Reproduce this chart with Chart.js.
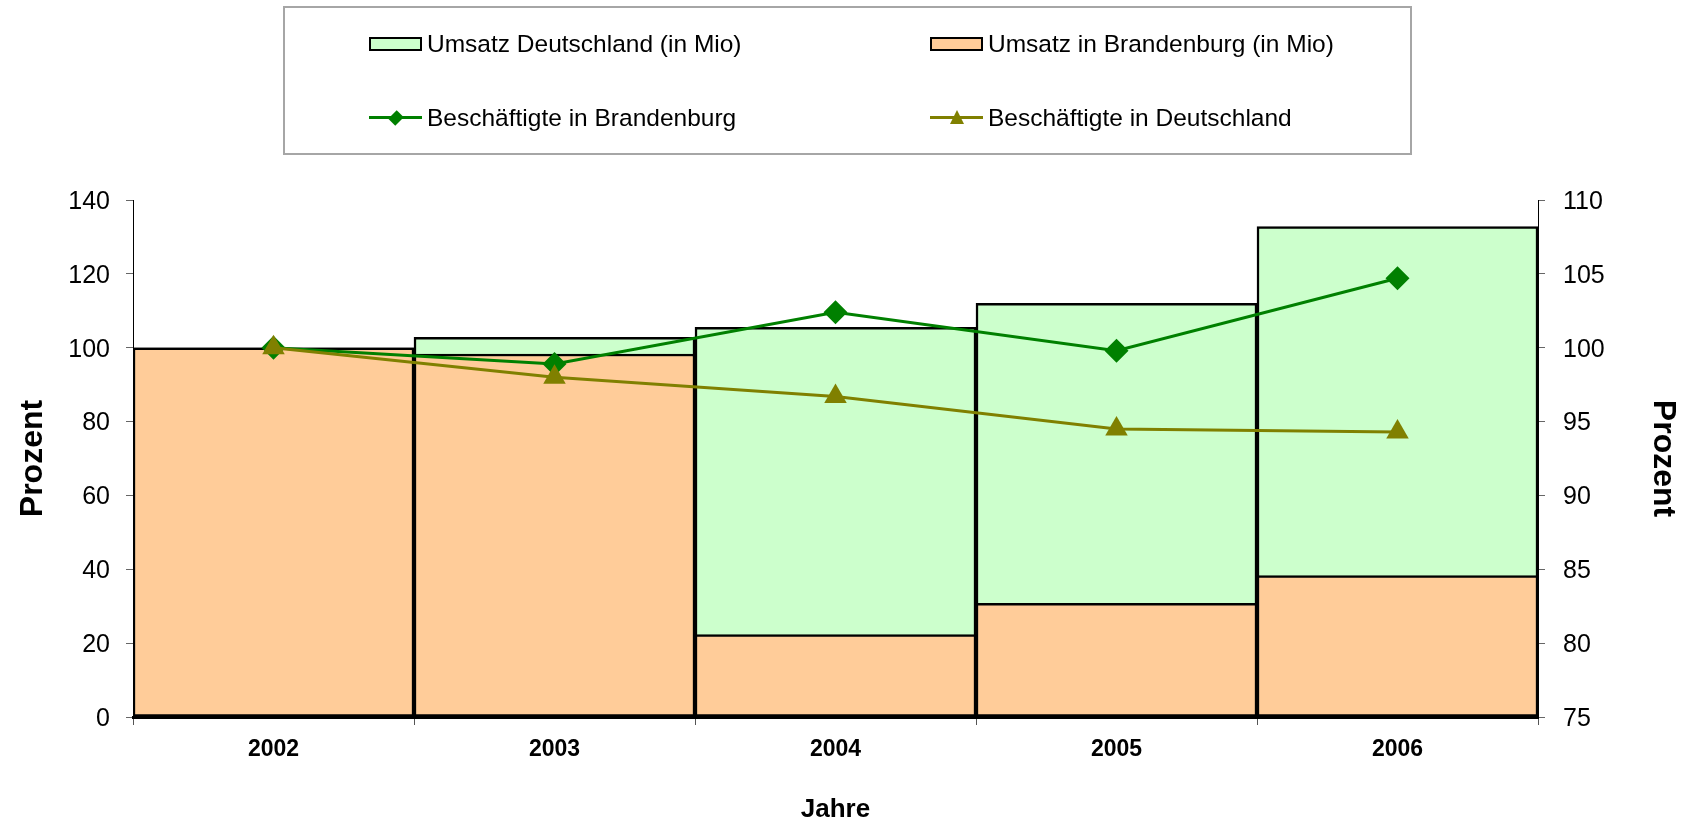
<!DOCTYPE html>
<html>
<head>
<meta charset="utf-8">
<script src="https://cdn.jsdelivr.net/npm/chart.js@4"></script>
<style>
  body { margin: 0; background: #fff; }
  #wrap { position: relative; width: 1686px; height: 826px; font-family: 'Liberation Sans', Arial, sans-serif; }
  #legend { position: absolute; left: 283px; top: 6px; width: 1125px; height: 145px; border: 2px solid #a6a6a6; }
  .item { position: absolute; font-size: 24.5px; line-height: 24px; color: #000; white-space: nowrap; }
  .swatch { position: absolute; width: 53px; height: 14px; box-sizing: border-box; border: 2px solid #000; }
  .lineKey { position: absolute; width: 53px; height: 3px; }
  .diamond { position: absolute; width: 10px; height: 10px; transform: rotate(45deg) scaleY(1.2); }
  .tri { position: absolute; width: 0; height: 0; border-left: 7px solid transparent; border-right: 7px solid transparent; }
</style>
</head>
<body>
<div id="wrap">
  <canvas id="chart" width="1686" height="826"></canvas>
  <div id="legend"></div>
</div>
<script>
const years = ['2002', '2003', '2004', '2005', '2006'];
const umsatzDeutschland = [100, 102.8, 105.5, 112.0, 132.8];
const umsatzBrandenburg = [100, 98.3, 22.3, 30.8, 38.3];
const beschaeftigteBrandenburg = [100, 98.9, 102.4, 99.8, 104.7];
const beschaeftigteDeutschland = [100, 98.0, 96.7, 94.5, 94.3];

const colors = {
    umsatzDE: '#CCFFCC',
    umsatzBB: '#FFCC99',
    beschBB: '#008000',
    beschDE: '#808000'
};

const fontFamily = "'Liberation Sans', Arial, sans-serif";
const labelFont = { family: fontFamily, size: 25 };
const titleFont = { family: fontFamily, size: 32, weight: 'bold' };

// legend is plain html, the chart's own legend is off
const buildLegend = () => {
    const legend = document.getElementById('wrap');
    const entries = [
        { text: 'Umsatz Deutschland (in Mio)', kind: 'box', color: colors.umsatzDE, x: 369, y: 44 },
        { text: 'Umsatz in Brandenburg (in Mio)', kind: 'box', color: colors.umsatzBB, x: 930, y: 44 },
        { text: 'Beschäftigte in Brandenburg', kind: 'diamond', color: colors.beschBB, x: 369, y: 117.5 },
        { text: 'Beschäftigte in Deutschland', kind: 'tri', color: colors.beschDE, x: 930, y: 117.5 }
    ];
    entries.forEach(e => {
        if (e.kind === 'box') {
            const s = document.createElement('div');
            s.className = 'swatch';
            s.style.left = e.x + 'px';
            s.style.top = (e.y - 7) + 'px';
            s.style.background = e.color;
            legend.appendChild(s);
        } else {
            const l = document.createElement('div');
            l.className = 'lineKey';
            l.style.left = e.x + 'px';
            l.style.top = (e.y - 1.5) + 'px';
            l.style.background = e.color;
            legend.appendChild(l);
            const m = document.createElement('div');
            if (e.kind === 'diamond') {
                m.className = 'diamond';
                m.style.left = (e.x + 26.5 - 5) + 'px';
                m.style.top = (e.y - 5) + 'px';
                m.style.background = e.color;
            } else {
                m.className = 'tri';
                m.style.left = (e.x + 26.5 - 7) + 'px';
                m.style.top = (e.y - 8) + 'px';
                m.style.borderBottom = '14px solid ' + e.color;
            }
            legend.appendChild(m);
        }
        const t = document.createElement('div');
        t.className = 'item';
        t.style.left = (e.x + 58) + 'px';
        t.style.top = (e.y - 12) + 'px';
        t.textContent = e.text;
        legend.appendChild(t);
    });
};
buildLegend();

const ctx = document.getElementById('chart').getContext('2d');
new Chart(ctx, {
    type: 'bar',
    data: {
        labels: years,
        datasets: [
            {
                type: 'line',
                label: 'Beschäftigte in Deutschland',
                data: beschaeftigteDeutschland,
                yAxisID: 'y2',
                borderColor: colors.beschDE,
                backgroundColor: colors.beschDE,
                borderWidth: 3,
                pointStyle: 'triangle',
                pointRadius: 13,
                pointBorderWidth: 0,
                tension: 0,
                fill: false,
                order: 0
            },
            {
                type: 'line',
                label: 'Beschäftigte in Brandenburg',
                data: beschaeftigteBrandenburg,
                yAxisID: 'y2',
                borderColor: colors.beschBB,
                backgroundColor: colors.beschBB,
                borderWidth: 3,
                pointStyle: 'rectRot',
                pointRadius: 12,
                pointBorderWidth: 0,
                tension: 0,
                fill: false,
                order: 1
            },
            {
                label: 'Umsatz in Brandenburg (in Mio)',
                data: umsatzBrandenburg,
                yAxisID: 'y',
                backgroundColor: colors.umsatzBB,
                borderColor: '#000',
                borderWidth: 2.5,
                borderSkipped: false,
                grouped: false,
                categoryPercentage: 1,
                barPercentage: 1,
                order: 2
            },
            {
                label: 'Umsatz Deutschland (in Mio)',
                data: umsatzDeutschland,
                yAxisID: 'y',
                backgroundColor: colors.umsatzDE,
                borderColor: '#000',
                borderWidth: 2.5,
                borderSkipped: false,
                grouped: false,
                categoryPercentage: 1,
                barPercentage: 1,
                order: 3
            }
        ]
    },
    options: {
        responsive: false,
        animation: false,
        layout: { padding: { top: 200, left: 0, right: 0, bottom: 0 } },
        plugins: {
            legend: { display: false },
            tooltip: { enabled: false }
        },
        scales: {
            x: {
                grid: { drawOnChartArea: false, tickLength: 8, color: '#555', offset: true },
                border: { color: '#000', width: 3 },
                ticks: { color: '#000', font: { family: fontFamily, size: 23, weight: 'bold' }, padding: 11 },
                title: { display: true, text: 'Jahre', color: '#000', font: { family: fontFamily, size: 26, weight: 'bold' }, padding: { top: 0, bottom: 1 } },
                afterFit: (scale) => { scale.height = 109; }
            },
            y: {
                position: 'left',
                min: 0,
                max: 140,
                ticks: { stepSize: 20, color: '#000', font: labelFont, padding: 16, labelOffset: 2 },
                grid: { drawOnChartArea: false, tickLength: 7, color: '#666' },
                border: { color: '#000', width: 1 },
                title: { display: true, text: 'Prozent', color: '#000', font: titleFont, padding: { top: 14, bottom: 0 } },
                afterFit: (scale) => { scale.width = 133; }
            },
            y2: {
                position: 'right',
                min: 75,
                max: 110,
                ticks: { stepSize: 5, color: '#000', font: labelFont, padding: 18, labelOffset: 2 },
                grid: { drawOnChartArea: false, tickLength: 7, color: '#666' },
                border: { color: '#000', width: 1 },
                title: { display: true, text: 'Prozent', color: '#000', font: titleFont, padding: { top: 4, bottom: 0 } },
                afterFit: (scale) => { scale.width = 148; }
            }
        }
    }
});
</script>
</body>
</html>
